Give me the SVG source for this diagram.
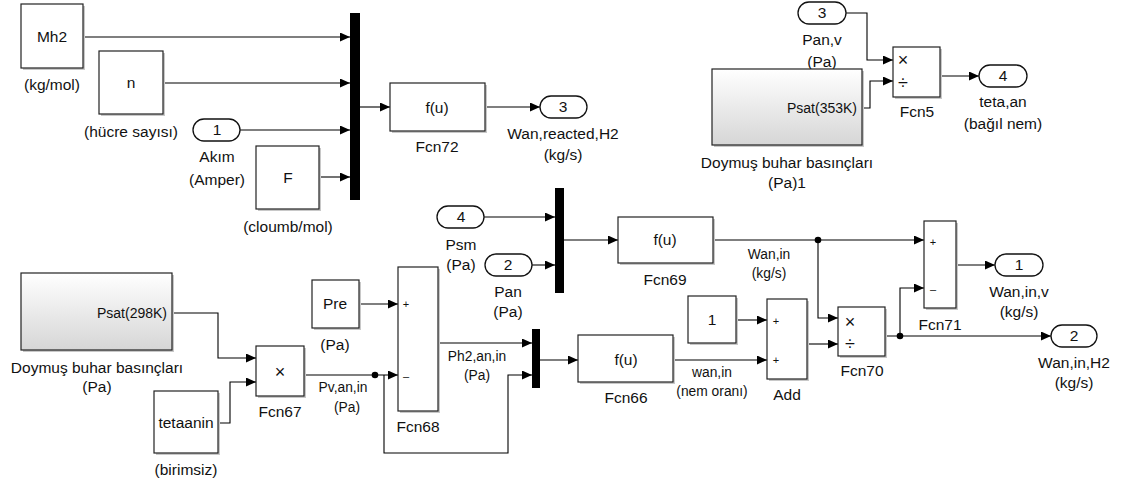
<svg xmlns="http://www.w3.org/2000/svg" width="1130" height="484" viewBox="0 0 1130 484">
<defs>
<marker id="ar" markerWidth="10" markerHeight="9" refX="10" refY="4.5" orient="auto" markerUnits="userSpaceOnUse"><path d="M0,0 L10,4.5 L0,9 z" fill="#000"/></marker>
<linearGradient id="sg" x1="0" y1="0" x2="0" y2="1"><stop offset="0" stop-color="#ffffff"/><stop offset="1" stop-color="#d6d6d6"/></linearGradient>
<style>
.b{fill:#fff;stroke:#222;stroke-width:1.2}
.sh{fill:#c8c8c8}
.sub{fill:url(#sg);stroke:#222;stroke-width:1.2}
.p{fill:#fff;stroke:#111;stroke-width:1.3}
.mux{fill:#000}
.c{fill:none;stroke:#000;stroke-width:1.1;marker-end:url(#ar)}
.cn{fill:none;stroke:#000;stroke-width:1.1}
text{font-family:"Liberation Sans",Arial,sans-serif;fill:#111}
.t{font-size:15.5px;text-anchor:middle}
.s{font-size:13.8px;text-anchor:middle}
.r{font-size:14px;text-anchor:end}
.g{font-size:11px;text-anchor:middle}
.o{font-size:18px;text-anchor:middle}
</style>
</defs>

<g id="connectors">
<path class="c" d="M83,37 H350"/>
<path class="c" d="M163,83 H350"/>
<path class="c" d="M240,130 H350"/>
<path class="c" d="M319,177 H350"/>
<path class="c" d="M360,107 H390"/>
<path class="c" d="M485,107 H540"/>
<path class="c" d="M846,13 H867 V60 H893"/>
<path class="c" d="M862,108 H870 V81 H893"/>
<path class="c" d="M940,76 H979"/>
<path class="c" d="M484,217 H555"/>
<path class="c" d="M532,265 H555"/>
<path class="c" d="M564,240 H618"/>
<path class="c" d="M713,240 H924"/>
<path class="c" d="M818,240 V318 H838"/>
<path class="c" d="M956,265 H995"/>
<path class="c" d="M885,336 H1051"/>
<path class="c" d="M900,336 V288 H924"/>
<path class="c" d="M736,320 H767"/>
<path class="c" d="M673,360 H767"/>
<path class="c" d="M807,344 H838"/>
<path class="c" d="M172,313 H218 V358 H256"/>
<path class="c" d="M218,423 H230 V382 H256"/>
<path class="c" d="M304,375 H398"/>
<path class="c" d="M384,375 V453 H508 V375 H532"/>
<path class="c" d="M359,304 H398"/>
<path class="c" d="M438,343 H532"/>
<path class="c" d="M540,360 H578"/>
<circle cx="375" cy="375" r="3.3" fill="#000"/>
<circle cx="818" cy="240" r="3.3" fill="#000"/>
<circle cx="900" cy="336" r="3.3" fill="#000"/>
<text class="s" x="769" y="259">Wan,in</text>
<text class="s" x="769" y="278">(kg/s)</text>
<text class="s" x="712" y="377">wan,in</text>
<text class="s" x="712" y="396">(nem oranı)</text>
<text class="s" x="477" y="361">Ph2,an,in</text>
<text class="s" x="477" y="380">(Pa)</text>
<text class="s" x="343" y="392">Pv,an,in</text>
<text class="s" x="347" y="412">(Pa)</text>
</g>

<g id="Mh2">
<rect class="sh" x="23" y="6" width="62" height="64"/>
<rect class="b" x="21" y="4" width="62" height="64"/>
<text class="t" x="52" y="42">Mh2</text>
<text class="t" x="52" y="90">(kg/mol)</text>
</g>
<g id="n">
<rect class="sh" x="101" y="53" width="64" height="63"/>
<rect class="b" x="99" y="51" width="64" height="63"/>
<text class="t" x="131" y="88">n</text>
<text class="t" x="131" y="137">(hücre sayısı)</text>
</g>
<g id="In1">
<rect class="p" x="193" y="119" width="47" height="22" rx="11"/>
<text class="t" x="217" y="135">1</text>
<text class="t" x="217" y="162">Akım</text>
<text class="t" x="217" y="185">(Amper)</text>
</g>
<g id="F">
<rect class="sh" x="258" y="148" width="63" height="63"/>
<rect class="b" x="256" y="146" width="63" height="63"/>
<text class="t" x="288" y="183">F</text>
<text class="t" x="288" y="232">(cloumb/mol)</text>
</g>
<g id="Mux1">
<rect class="mux" x="350" y="13" width="10" height="187"/>
</g>
<g id="Fcn72">
<rect class="sh" x="392" y="85" width="95" height="48"/>
<rect class="b" x="390" y="83" width="95" height="48"/>
<text class="t" x="437" y="113">f(u)</text>
<text class="t" x="437" y="152">Fcn72</text>
</g>
<g id="Out3">
<rect class="p" x="540" y="96" width="47" height="22" rx="11"/>
<text class="t" x="563" y="112">3</text>
<text class="t" x="563" y="139">Wan,reacted,H2</text>
<text class="t" x="563" y="160">(kg/s)</text>
</g>

<g id="In3">
<rect class="p" x="798" y="2" width="48" height="22" rx="11"/>
<text class="t" x="822" y="18">3</text>
<text class="t" x="822" y="45">Pan,v</text>
<text class="t" x="822" y="67">(Pa)</text>
</g>
<g id="Doymus1">
<rect class="sh" x="714" y="71" width="150" height="76"/>
<rect class="sub" x="712" y="69" width="150" height="76"/>
<text class="r" x="857" y="113">Psat(353K)</text>
<text class="t" x="787" y="168">Doymuş buhar basınçları</text>
<text class="t" x="787" y="188">(Pa)1</text>
</g>
<g id="Fcn5">
<rect class="sh" x="895" y="49" width="47" height="50"/>
<rect class="b" x="893" y="47" width="47" height="50"/>
<text class="o" x="903" y="66">×</text>
<text class="o" x="903" y="89">÷</text>
<text class="t" x="917" y="117">Fcn5</text>
</g>
<g id="Out4">
<rect class="p" x="979" y="65" width="48" height="22" rx="11"/>
<text class="t" x="1003" y="81">4</text>
<text class="t" x="1003" y="107">teta,an</text>
<text class="t" x="1003" y="129">(bağıl nem)</text>
</g>

<g id="In4">
<rect class="p" x="437" y="206" width="47" height="22" rx="11"/>
<text class="t" x="461" y="222">4</text>
<text class="t" x="461" y="250">Psm</text>
<text class="t" x="461" y="270">(Pa)</text>
</g>
<g id="In2">
<rect class="p" x="485" y="254" width="47" height="22" rx="11"/>
<text class="t" x="508" y="270">2</text>
<text class="t" x="508" y="297">Pan</text>
<text class="t" x="508" y="317">(Pa)</text>
</g>
<g id="Mux3">
<rect class="mux" x="555" y="188" width="9" height="105"/>
</g>
<g id="Fcn69">
<rect class="sh" x="620" y="219" width="95" height="46"/>
<rect class="b" x="618" y="217" width="95" height="46"/>
<text class="t" x="665" y="245">f(u)</text>
<text class="t" x="665" y="285">Fcn69</text>
</g>
<g id="Fcn71">
<rect class="sh" x="926" y="223" width="32" height="87"/>
<rect class="b" x="924" y="221" width="32" height="87"/>
<text class="g" x="933" y="246">+</text>
<text class="g" x="933" y="293">–</text>
<text class="t" x="940" y="330">Fcn71</text>
</g>
<g id="Out1">
<rect class="p" x="995" y="254" width="48" height="22" rx="11"/>
<text class="t" x="1019" y="270">1</text>
<text class="t" x="1019" y="297">Wan,in,v</text>
<text class="t" x="1019" y="317">(kg/s)</text>
</g>
<g id="Out2">
<rect class="p" x="1051" y="325" width="46" height="22" rx="11"/>
<text class="t" x="1074" y="341">2</text>
<text class="t" x="1074" y="368">Wan,in,H2</text>
<text class="t" x="1074" y="388">(kg/s)</text>
</g>
<g id="Const1">
<rect class="sh" x="690" y="298" width="48" height="47"/>
<rect class="b" x="688" y="296" width="48" height="47"/>
<text class="t" x="712" y="325">1</text>
</g>
<g id="Add">
<rect class="sh" x="769" y="301" width="40" height="80"/>
<rect class="b" x="767" y="299" width="40" height="80"/>
<text class="g" x="776" y="325">+</text>
<text class="g" x="776" y="364">+</text>
<text class="t" x="787" y="400">Add</text>
</g>
<g id="Fcn70">
<rect class="sh" x="840" y="309" width="47" height="49"/>
<rect class="b" x="838" y="307" width="47" height="49"/>
<text class="o" x="850" y="328">×</text>
<text class="o" x="850" y="350">÷</text>
<text class="t" x="862" y="376">Fcn70</text>
</g>
<g id="Fcn66">
<rect class="sh" x="580" y="337" width="95" height="47"/>
<rect class="b" x="578" y="335" width="95" height="47"/>
<text class="t" x="626" y="365">f(u)</text>
<text class="t" x="626" y="403">Fcn66</text>
</g>
<g id="Mux2">
<rect class="mux" x="532" y="329" width="8" height="59"/>
</g>
<g id="Fcn68">
<rect class="sh" x="400" y="269" width="40" height="144"/>
<rect class="b" x="398" y="267" width="40" height="144"/>
<text class="g" x="406" y="308">+</text>
<text class="g" x="406" y="380">–</text>
<text class="t" x="418" y="432">Fcn68</text>
</g>
<g id="Pre">
<rect class="sh" x="314" y="282" width="47" height="48"/>
<rect class="b" x="312" y="280" width="47" height="48"/>
<text class="t" x="335" y="309">Pre</text>
<text class="t" x="335" y="350">(Pa)</text>
</g>
<g id="Doymus">
<rect class="sh" x="23" y="275" width="151" height="77"/>
<rect class="sub" x="21" y="273" width="151" height="77"/>
<text class="r" x="167" y="318">Psat(298K)</text>
<text class="t" x="97" y="373">Doymuş buhar basınçları</text>
<text class="t" x="97" y="392">(Pa)</text>
</g>
<g id="Fcn67">
<rect class="sh" x="258" y="348" width="48" height="50"/>
<rect class="b" x="256" y="346" width="48" height="50"/>
<text class="o" x="280" y="378">×</text>
<text class="t" x="280" y="417">Fcn67</text>
</g>
<g id="tetaanin">
<rect class="sh" x="156" y="393" width="64" height="62"/>
<rect class="b" x="154" y="391" width="64" height="62"/>
<text class="t" x="186" y="428">tetaanin</text>
<text class="t" x="186" y="475">(birimsiz)</text>
</g>
</svg>
